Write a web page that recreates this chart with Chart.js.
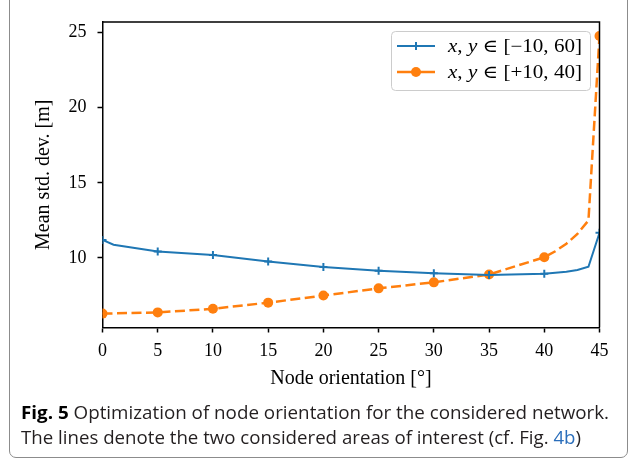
<!DOCTYPE html>
<html>
<head>
<meta charset="utf-8">
<script src="https://cdn.jsdelivr.net/npm/chart.js@4"></script>
<style>
  html, body { margin: 0; padding: 0; background: #fff; }
  #wrap { position: relative; width: 635px; height: 465px; overflow: hidden; }
  #chart { position: absolute; left: 0; top: 0; }
  #frame { position: absolute; left: 9px; top: -12px; width: 619px; height: 470px;
           border: 1px solid #8c8c8c; border-radius: 7px; box-sizing: border-box; }
  .cap { position: absolute; left: 21px; font-family: "Open Sans", sans-serif; font-size: 18.5px;
         color: #231f20; white-space: nowrap; transform-origin: 0 50%; line-height: 24px; }
  .cap b { color: #000; font-weight: 700; }
  .cap span.ref { color: #2a6ebb; }
</style>
</head>
<body>
<div id="wrap">
  <canvas id="chart" width="635" height="400"></canvas>
  <div id="frame"></div>
  <div class="cap" data-w="588" style="top:400px"><b>Fig. 5</b> Optimization of node orientation for the considered network.</div>
  <div class="cap" data-w="560" style="top:425px">The lines denote the two considered areas of interest (cf. Fig. <span class="ref">4b</span>)</div>
</div>
<script>
// Node orientation sweep: mean standard deviation for two areas of interest
const orientationA = [0, 1, 5, 10, 15, 20, 25, 30, 35, 40, 42, 43, 44, 45];
const stdDevA      = [11.20, 10.88, 10.43, 10.20, 9.76, 9.40, 9.15, 8.98, 8.87, 8.96, 9.08, 9.20, 9.42, 11.68];
const orientationB = [0, 5, 10, 15, 20, 25, 30, 35, 40, 41, 42, 43, 44, 45];
const stdDevB      = [6.30, 6.38, 6.62, 7.03, 7.50, 7.98, 8.38, 8.90, 10.05, 10.45, 10.95, 11.60, 12.50, 24.77];
const seriesLabels = ['x, y \u2208 [\u221210, 60]', 'x, y \u2208 [+10, 40]'];
const xTickValues  = [0, 5, 10, 15, 20, 25, 30, 35, 40, 45];
const yTickValues  = [10, 15, 20, 25];
const xTitle = 'Node orientation [\u00b0]';
const yTitle = 'Mean std. dev. [m]';

const BLUE = '#1f77b4';
const ORANGE = '#ff7f0e';
const SERIF = '"Liberation Serif", "DejaVu Serif", serif';

const toPoints = (xs, ys) => xs.map((x, i) => ({ x: x, y: ys[i] }));
const onMarkEvery = xs => ctx => (xs[ctx.dataIndex] % 5 === 0);

// text with italic latin letters (math-style variables), stretched to a given width
function drawMathText(ctx, text, x, y, size, width) {
  const glyphs = [...text].map(ch => {
    const font = (/[a-z]/i.test(ch) ? 'italic ' : '') + size + 'px ' + SERIF;
    ctx.font = font;
    return { ch, font, w: ctx.measureText(ch).width };
  });
  const natural = glyphs.reduce((s, g) => s + g.w, 0);
  const k = width ? width / natural : 1;
  ctx.save();
  ctx.translate(x, y);
  ctx.scale(k, 1);
  let cx = 0;
  glyphs.forEach(g => { ctx.font = g.font; ctx.fillText(g.ch, cx, 0); cx += g.w; });
  ctx.restore();
}

const decorations = {
  id: 'decorations',
  afterDraw(chart) {
    const { ctx, chartArea: a } = chart;
    ctx.save();
    // top and right spines
    ctx.strokeStyle = '#000';
    ctx.lineWidth = 1.5;
    ctx.beginPath();
    ctx.moveTo(a.left, a.top);
    ctx.lineTo(a.right, a.top);
    ctx.lineTo(a.right, a.bottom);
    ctx.stroke();

    // axis titles
    ctx.fillStyle = '#000';
    ctx.font = '20px ' + SERIF;
    ctx.textAlign = 'center';
    ctx.textBaseline = 'middle';
    ctx.fillText(xTitle, (a.left + a.right) / 2, 379);
    ctx.save();
    ctx.translate(44, (a.top + a.bottom) / 2);
    ctx.rotate(-Math.PI / 2);
    ctx.fillText(yTitle, 0, 0);
    ctx.restore();

    // legend
    const bx = 391.5, by = 31.5, bw = 199, bh = 59;
    ctx.beginPath();
    ctx.roundRect(bx, by, bw, bh, 4);
    ctx.fillStyle = 'rgba(255,255,255,0.8)';
    ctx.fill();
    ctx.strokeStyle = '#cccccc';
    ctx.lineWidth = 1;
    ctx.stroke();

    const rows = [46, 72];
    chart.data.datasets.forEach((ds, i) => {
      const y = rows[i];
      ctx.setLineDash([]);
      ctx.strokeStyle = ds.borderColor;
      ctx.lineWidth = ds.borderWidth;
      ctx.beginPath();
      ctx.moveTo(397, y);
      ctx.lineTo(435, y);
      ctx.stroke();
      if (ds.pointStyle === 'cross') {
        ctx.lineWidth = 2;
        ctx.beginPath();
        ctx.moveTo(416 - 4, y); ctx.lineTo(416 + 4, y);
        ctx.moveTo(416, y - 4); ctx.lineTo(416, y + 4);
        ctx.stroke();
      } else {
        ctx.beginPath();
        ctx.arc(416, y, 5, 0, Math.PI * 2);
        ctx.fillStyle = ds.borderColor;
        ctx.fill();
      }
      ctx.fillStyle = '#000';
      ctx.textAlign = 'left';
      ctx.textBaseline = 'middle';
      drawMathText(ctx, ds.label, 448, y + 1, 18, 134);
    });
    ctx.restore();
  }
};

new Chart(document.getElementById('chart'), {
  type: 'line',
  data: {
    datasets: [
      {
        label: seriesLabels[0],
        data: toPoints(orientationA, stdDevA),
        borderColor: BLUE,
        backgroundColor: BLUE,
        borderWidth: 2,
        pointStyle: 'cross',
        pointRadius: ctx => onMarkEvery(orientationA)(ctx) ? 4 : 0,
        pointBorderWidth: 2,
        pointBorderColor: BLUE,
        tension: 0,
        clip: 0
      },
      {
        label: seriesLabels[1],
        data: toPoints(orientationB, stdDevB),
        borderColor: ORANGE,
        backgroundColor: ORANGE,
        borderWidth: 2.5,
        borderDash: [10, 4.5],
        pointStyle: 'circle',
        pointRadius: ctx => onMarkEvery(orientationB)(ctx) ? 5 : 0,
        pointBorderWidth: 0,
        pointBackgroundColor: ORANGE,
        tension: 0,
        clip: 0
      }
    ]
  },
  options: {
    responsive: false,
    animation: false,
    events: [],
    layout: { padding: { left: 0, right: 35.5, top: 22, bottom: 0 } },
    plugins: { legend: { display: false }, tooltip: { enabled: false } },
    scales: {
      x: {
        type: 'linear',
        min: 0,
        max: 45,
        afterBuildTicks: s => { s.ticks = xTickValues.map(v => ({ value: v })); },
        afterFit: s => { s.height = 72.5; },
        ticks: { color: '#000', font: { family: SERIF, size: 18 }, padding: 8, maxRotation: 0, autoSkip: false },
        grid: { drawOnChartArea: false, drawTicks: true, tickLength: 5, tickWidth: 1.5, tickColor: '#000' },
        border: { display: true, color: '#000', width: 1.5 }
      },
      y: {
        type: 'linear',
        min: 5.376,
        max: 25.70,
        afterBuildTicks: s => { s.ticks = yTickValues.map(v => ({ value: v })); },
        afterFit: s => { s.width = 102.5; },
        ticks: { color: '#000', font: { family: SERIF, size: 18 }, padding: 11, autoSkip: false },
        grid: { drawOnChartArea: false, drawTicks: true, tickLength: 5, tickWidth: 1.5, tickColor: '#000' },
        border: { display: true, color: '#000', width: 1.5 }
      }
    }
  },
  plugins: [decorations]
});

// fit caption lines to their set widths
document.querySelectorAll('.cap').forEach(el => {
  const target = parseFloat(el.dataset.w);
  const w = el.getBoundingClientRect().width;
  if (w > 0) el.style.transform = 'scaleX(' + (target / w).toFixed(4) + ')';
});
</script>
</body>
</html>
